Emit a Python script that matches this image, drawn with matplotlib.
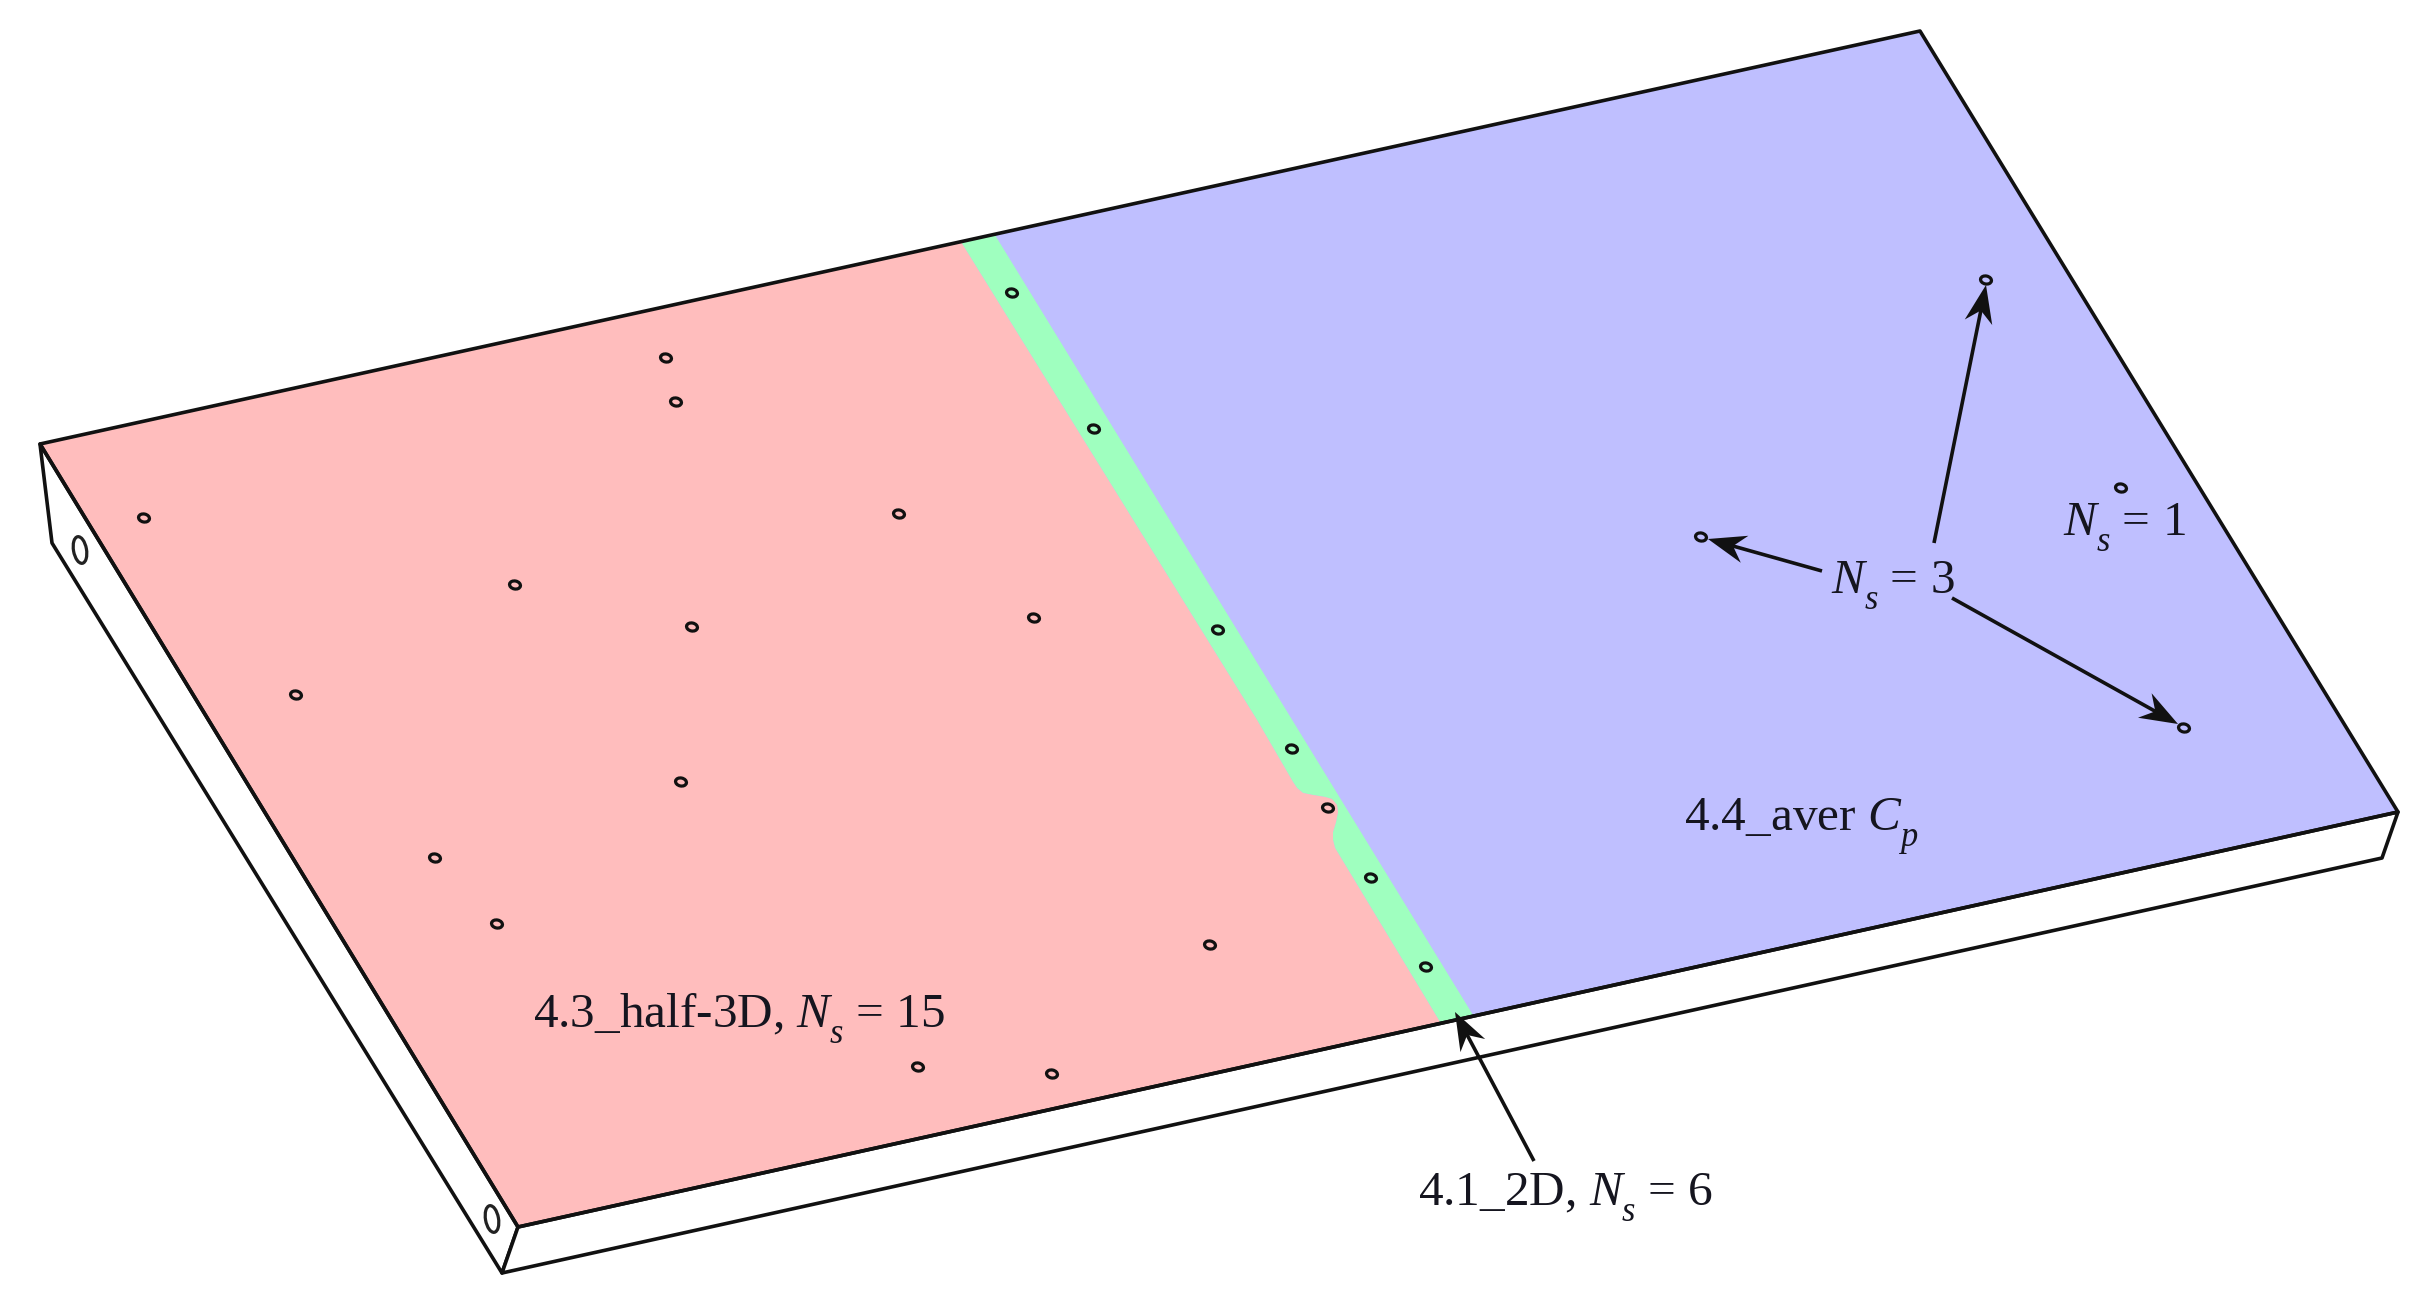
import numpy as np
import matplotlib
matplotlib.use("Agg")
import matplotlib.pyplot as plt
from matplotlib.patches import Polygon, Ellipse
from matplotlib import _mathtext

plt.rcParams['font.family'] = ['Liberation Serif', 'DejaVu Serif']
plt.rcParams['mathtext.fontset'] = 'custom'
plt.rcParams['mathtext.rm'] = 'Liberation Serif'
plt.rcParams['mathtext.it'] = 'Liberation Serif:italic'
# The reference drops its subscripts lower than mathtext does by default
_mathtext.FontConstantsBase.subdrop = 0.75
_mathtext.FontConstantsBase.sub1 = 0.75
_mathtext.FontConstantsBase.script_space = 0.0

# Plate geometry (reference pixels)
top_face = [(40, 444), (1920, 31), (2398, 812), (518, 1227)]
side_left = [(40, 444), (52, 543), (502, 1273), (518, 1227)]
side_front = [(518, 1227), (502, 1273), (2382, 858), (2398, 812)]

red_region = [(40, 444), (961, 242), (1257, 720), (1293, 782), (1297, 788), (1303, 793),
              (1313, 795), (1325, 797), (1332, 799), (1337, 805), (1338, 812),
              (1336, 822), (1333, 832), (1333, 840), (1335, 848), (1440, 1022), (518, 1227)]
green_region = [(961, 242), (995, 235), (1473, 1015), (1440, 1022), (1335, 848), (1333, 840),
                (1333, 832), (1336, 822), (1338, 812), (1337, 805), (1332, 799), (1325, 797),
                (1313, 795), (1303, 793), (1297, 788), (1293, 782), (1257, 720)]

# Pressure taps
holes_x = [666, 676, 144, 899, 515, 692, 1034, 296, 681, 435, 497, 1210, 918, 1052, 1328,
           1012, 1094, 1218, 1292, 1371, 1426,
           1986, 1701, 2184, 2121]
holes_y = [358, 402, 518, 514, 585, 627, 618, 695, 782, 858, 924, 945, 1067, 1074, 808,
           293, 429, 630, 749, 878, 967,
           280, 537, 728, 488]
side_holes_x = [80, 492]
side_holes_y = [550, 1219]

# Arrows: start -> tip
arrow_start = [(1934, 543), (1822, 571), (1952, 598), (1534, 1161)]
arrow_tip = [(1986, 285), (1708, 539), (2178, 724), (1455, 1012)]

labels = [
    (533, 1027, r"4.3_half-3D, $N_s$ = 15"),
    (1684, 831, r"4.4_aver $C_p$"),
    (1418, 1206, r"4.1_2D, $N_s$ = 6"),
    (1831, 593, r"$N_s$ = 3"),
    (2063, 536, r"$N_s$ = 1"),
]

fig = plt.figure(figsize=(24.27, 13.14), dpi=100)
ax = fig.add_axes([0, 0, 1, 1])
ax.set_xlim(0, 2427)
ax.set_ylim(1314, 0)
ax.axis("off")

LW = 2.6
ax.add_patch(Polygon(top_face, closed=True, fc="#BFBFFF", ec="none", zorder=1))
ax.add_patch(Polygon(green_region, closed=True, fc="#9FFFBF", ec="none", zorder=2))
ax.add_patch(Polygon(red_region, closed=True, fc="#FFBDBD", ec="none", zorder=3))
for side in (side_left, side_front):
    ax.add_patch(Polygon(side, closed=True, fc="white", ec="#111111", lw=LW,
                         joinstyle="round", zorder=4))
ax.add_patch(Polygon(top_face, closed=True, fc="none", ec="#111111", lw=LW,
                     joinstyle="round", zorder=5))

for x, y in zip(holes_x, holes_y):
    ax.add_patch(Ellipse((x, y), 11, 8, angle=12, fc="none", ec="#111111", lw=2.3, zorder=6))
for x, y in zip(side_holes_x, side_holes_y):
    ax.add_patch(Ellipse((x, y), 13, 27, angle=-10, fc="none", ec="#222222", lw=2.3, zorder=6))

for s, t in zip(arrow_start, arrow_tip):
    s = np.array(s, float)
    t = np.array(t, float)
    u = (t - s) / np.linalg.norm(t - s)
    n = np.array([-u[1], u[0]])
    ax.plot([s[0], (t - 20 * u)[0]], [s[1], (t - 20 * u)[1]], color="#111111", lw=LW,
            solid_capstyle="butt", zorder=7)
    head = [t, t - 38 * u + 14 * n, t - 26 * u, t - 38 * u - 14 * n]
    ax.add_patch(Polygon(head, closed=True, fc="#111111", ec="none", zorder=8))

for x, y, s in labels:
    ax.text(x, y, s, fontsize=35.5, color="#15151f", ha="left", va="baseline", zorder=9)

fig.savefig("out.png", dpi=100)
